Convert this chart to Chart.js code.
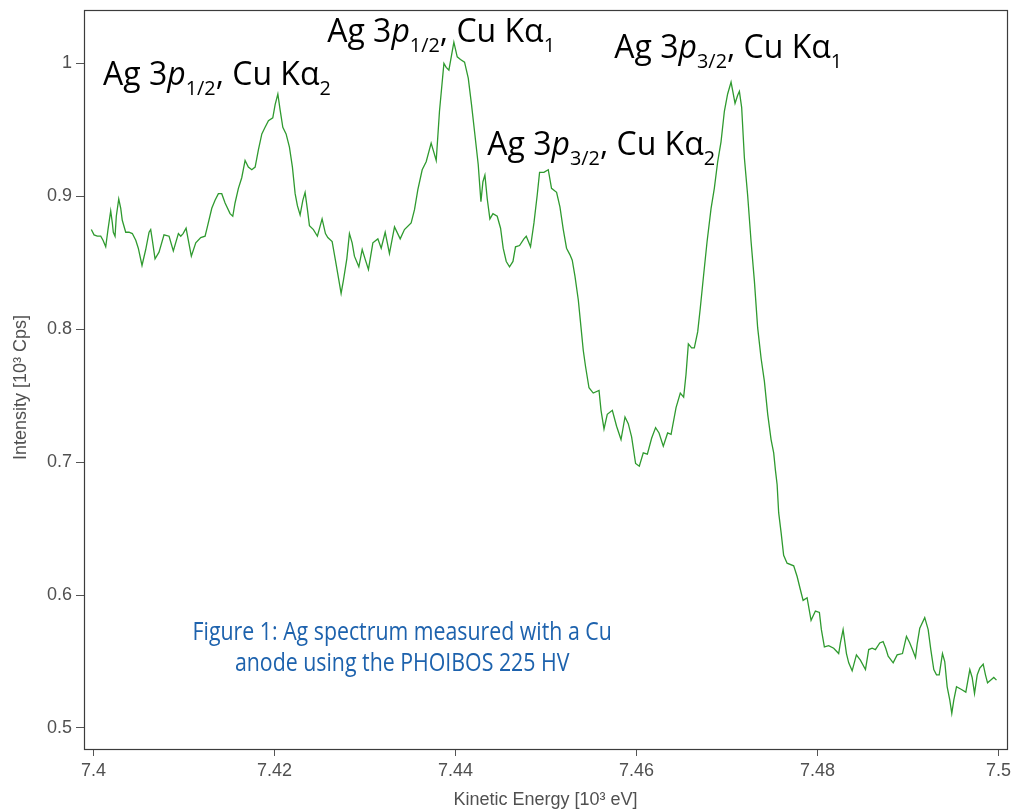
<!DOCTYPE html>
<html>
<head>
<meta charset="utf-8">
<script src="https://cdn.jsdelivr.net/npm/chart.js@4.4.1/dist/chart.umd.min.js"></script>
<style>
  html, body { margin: 0; padding: 0; background: #ffffff; }
  #wrap { width: 1011px; height: 810px; }
  canvas { display: block; }
</style>
</head>
<body>
<div id="wrap"><canvas id="c" width="1011" height="810"></canvas></div>
<script>
// ---------------- DATA ----------------
const energy = [
  7.39976,7.40006,7.40042,7.40080,7.40105,7.40135,7.40160,7.40190,7.40208,7.40219,
  7.40238,7.40252,7.40279,7.40301,7.40318,7.40356,7.40392,7.40429,7.40467,7.40495,
  7.40536,7.40577,7.40614,7.40632,7.40650,7.40680,7.40724,7.40779,7.40835,7.40882,
  7.40938,7.40964,7.40990,7.41023,7.41045,7.41081,7.41130,7.41185,7.41233,7.41258,
  7.41307,7.41343,7.41380,7.41417,7.41454,7.41509,7.41539,7.41564,7.41601,7.41638,
  7.41675,7.41711,7.41749,7.41786,7.41822,7.41860,7.41896,7.41933,7.41981,7.42007,
  7.42037,7.42062,7.42092,7.42128,7.42165,7.42198,7.42228,7.42253,7.42283,7.42313,
  7.42338,7.42364,7.42386,7.42430,7.42474,7.42526,7.42563,7.42589,7.42637,7.42673,
  7.42711,7.42736,7.42762,7.42799,7.42828,7.42858,7.42883,7.42932,7.42969,7.43005,
  7.43038,7.43087,7.43142,7.43179,7.43223,7.43270,7.43326,7.43389,7.43436,7.43510,
  7.43547,7.43584,7.43632,7.43676,7.43731,7.43757,7.43787,7.43823,7.43872,7.43897,
  7.43927,7.43956,7.43982,7.44019,7.44055,7.44100,7.44141,7.44177,7.44215,7.44251,
  7.44281,7.44303,7.44325,7.44351,7.44380,7.44414,7.44461,7.44498,7.44527,7.44561,
  7.44597,7.44635,7.44663,7.44708,7.44756,7.44782,7.44829,7.44867,7.44903,7.44929,
  7.44977,7.45025,7.45061,7.45117,7.45154,7.45191,7.45227,7.45265,7.45290,7.45320,
  7.45357,7.45386,7.45412,7.45437,7.45475,7.45522,7.45586,7.45608,7.45641,7.45677,
  7.45733,7.45780,7.45829,7.45873,7.45909,7.45946,7.45990,7.46031,7.46075,7.46120,
  7.46167,7.46211,7.46249,7.46296,7.46344,7.46382,7.46437,7.46484,7.46521,7.46547,
  7.46573,7.46609,7.46639,7.46676,7.46705,7.46742,7.46780,7.46824,7.46860,7.46897,
  7.46934,7.46971,7.47007,7.47045,7.47089,7.47118,7.47137,7.47162,7.47192,7.47228,
  7.47266,7.47303,7.47339,7.47377,7.47413,7.47450,7.47487,7.47516,7.47535,7.47554,
  7.47571,7.47598,7.47626,7.47664,7.47737,7.47775,7.47811,7.47841,7.47885,7.47929,
  7.47977,7.48021,7.48043,7.48076,7.48124,7.48179,7.48234,7.48253,7.48283,7.48320,
  7.48345,7.48383,7.48430,7.48474,7.48530,7.48566,7.48604,7.48640,7.48688,7.48725,
  7.48754,7.48781,7.48836,7.48880,7.48939,7.48983,7.49020,7.49049,7.49083,7.49101,
  7.49130,7.49185,7.49223,7.49252,7.49285,7.49315,7.49345,7.49381,7.49406,7.49433,
  7.49462,7.49484,7.49506,7.49536,7.49591,7.49639,7.49683,7.49709,7.49735,7.49765,
  7.49793,7.49831,7.49856,7.49879,7.49912,7.49948,7.49978
];
const intensity = [
  0.875,0.871,0.870,0.870,0.867,0.862,0.875,0.889,0.880,0.873,
  0.870,0.885,0.898,0.891,0.882,0.873,0.873,0.872,0.867,0.861,
  0.848,0.860,0.873,0.875,0.867,0.853,0.858,0.871,0.870,0.859,
  0.872,0.870,0.872,0.876,0.868,0.855,0.865,0.869,0.870,0.877,
  0.891,0.897,0.902,0.902,0.895,0.887,0.885,0.895,0.906,0.914,
  0.927,0.922,0.920,0.922,0.935,0.947,0.952,0.957,0.959,0.969,
  0.977,0.965,0.952,0.947,0.937,0.922,0.902,0.893,0.886,0.897,
  0.903,0.890,0.878,0.875,0.870,0.883,0.872,0.869,0.866,0.852,
  0.837,0.827,0.837,0.853,0.872,0.865,0.855,0.847,0.860,0.852,
  0.845,0.865,0.868,0.861,0.873,0.857,0.877,0.868,0.875,0.880,
  0.890,0.905,0.920,0.926,0.940,0.934,0.927,0.964,1.000,0.997,
  0.995,1.006,1.016,1.005,1.003,1.001,0.989,0.969,0.946,0.924,
  0.896,0.911,0.916,0.898,0.883,0.887,0.885,0.876,0.861,0.851,
  0.847,0.851,0.862,0.863,0.868,0.870,0.862,0.880,0.901,0.918,
  0.918,0.920,0.906,0.903,0.892,0.875,0.861,0.856,0.852,0.840,
  0.822,0.802,0.784,0.772,0.756,0.752,0.754,0.739,0.725,0.736,
  0.739,0.727,0.717,0.734,0.729,0.719,0.699,0.697,0.707,0.706,
  0.718,0.726,0.722,0.712,0.722,0.721,0.741,0.752,0.749,0.766,
  0.789,0.786,0.786,0.798,0.816,0.841,0.866,0.891,0.906,0.926,
  0.941,0.964,0.977,0.986,0.970,0.976,0.979,0.967,0.929,0.901,
  0.866,0.836,0.801,0.778,0.761,0.736,0.717,0.707,0.694,0.683,
  0.662,0.647,0.630,0.624,0.622,0.614,0.604,0.596,0.598,0.581,
  0.588,0.587,0.574,0.561,0.562,0.560,0.556,0.564,0.574,0.556,
  0.549,0.543,0.555,0.551,0.544,0.559,0.560,0.559,0.564,0.565,
  0.560,0.554,0.549,0.555,0.556,0.569,0.564,0.559,0.553,0.563,
  0.575,0.583,0.574,0.559,0.544,0.540,0.540,0.556,0.550,0.531,
  0.521,0.511,0.521,0.531,0.529,0.527,0.544,0.538,0.526,0.540,
  0.545,0.548,0.540,0.534,0.536,0.538,0.536
];
const xTicks = [7.40, 7.42, 7.44, 7.46, 7.48, 7.50];
const xTickLabels = ['7.4', '7.42', '7.44', '7.46', '7.48', '7.5'];
const yTicks = [0.5, 0.6, 0.7, 0.8, 0.9, 1.0];
const yTickLabels = ['0.5', '0.6', '0.7', '0.8', '0.9', '1'];
const xRange = [7.39895, 7.50094];
const yRange = [0.4842, 1.0402];
const xTitle = 'Kinetic Energy [10³ eV]';
const yTitle = 'Intensity [10³ Cps]';
const captionLines = ['Figure 1: Ag spectrum measured with a Cu', 'anode using the PHOIBOS 225 HV'];

// peak labels: text segments (it = italic, sub = subscript)
const peakLabelTexts = [
  [{t:'Ag 3'},{t:'p',it:true},{t:'1/2',sub:true},{t:', Cu K'},{t:'α'},{t:'2',sub:true}],
  [{t:'Ag 3'},{t:'p',it:true},{t:'1/2',sub:true},{t:', Cu K'},{t:'α'},{t:'1',sub:true}],
  [{t:'Ag 3'},{t:'p',it:true},{t:'3/2',sub:true},{t:', Cu K'},{t:'α'},{t:'2',sub:true}],
  [{t:'Ag 3'},{t:'p',it:true},{t:'3/2',sub:true},{t:', Cu K'},{t:'α'},{t:'1',sub:true}]
];

// ---------------- LAYOUT / STYLE ----------------
// anchors (in data units) for the left/baseline of each peak label
const peakLabelAnchors = [
  {x: 7.40105, y: 0.9837},
  {x: 7.42582, y: 1.0160},
  {x: 7.44351, y: 0.9310},
  {x: 7.45755, y: 1.0040}
];
const captionAnchor = {x: 7.43411, y: [0.5663, 0.5430]};

const TICK_FONT = '"Liberation Sans", Arial, sans-serif';
const LABEL_FONT = '"Open Sans", "Noto Sans", sans-serif';

function drawRich(ctx, segs, x, y, size) {
  let cx = x;
  ctx.textBaseline = 'alphabetic';
  ctx.textAlign = 'left';
  for (const s of segs) {
    const fs = s.sub ? size * 0.62 : size;
    ctx.font = (s.it ? 'italic ' : '') + fs + 'px ' + LABEL_FONT;
    const dy = s.sub ? size * 0.30 : 0;
    ctx.fillText(s.t, cx, y + dy);
    cx += ctx.measureText(s.t).width;
  }
}

const overlay = {
  id: 'overlay',
  afterDraw(chart) {
    const ctx = chart.ctx;
    const a = chart.chartArea;
    const xs = chart.scales.x, ys = chart.scales.y;
    ctx.save();
    // frame
    ctx.strokeStyle = '#3c3c3c';
    ctx.lineWidth = 1.2;
    ctx.strokeRect(Math.round(a.left) + 0.5, Math.round(a.top) + 0.5,
                   Math.round(a.right - a.left), Math.round(a.bottom - a.top));
    // axis titles
    ctx.fillStyle = '#505050';
    ctx.font = '18px ' + TICK_FONT;
    ctx.textAlign = 'center';
    ctx.textBaseline = 'alphabetic';
    ctx.fillText(xTitle, (a.left + a.right) / 2, 805);
    ctx.save();
    ctx.translate(26, (a.top + a.bottom) / 2 + 8);
    ctx.rotate(-Math.PI / 2);
    ctx.fillText(yTitle, 0, 0);
    ctx.restore();
    // peak labels
    ctx.fillStyle = '#000000';
    peakLabelTexts.forEach((segs, i) => {
      const p = peakLabelAnchors[i];
      drawRich(ctx, segs, xs.getPixelForValue(p.x), ys.getPixelForValue(p.y), 32);
    });
    // caption
    ctx.fillStyle = '#1d62ad';
    ctx.font = '26px ' + LABEL_FONT;
    ctx.textAlign = 'center';
    captionLines.forEach((line, i) => {
      ctx.save();
      ctx.translate(xs.getPixelForValue(captionAnchor.x), ys.getPixelForValue(captionAnchor.y[i]));
      ctx.scale(0.82, 1);
      ctx.fillText(line, 0, 0);
      ctx.restore();
    });
    ctx.restore();
  }
};

function zeroPad(s) { s.paddingLeft = 0; s.paddingRight = 0; s.paddingTop = 0; s.paddingBottom = 0; }

new Chart(document.getElementById('c'), {
  type: 'scatter',
  data: {
    datasets: [{
      data: energy.map((e, i) => ({x: e, y: intensity[i]})),
      showLine: true,
      borderColor: '#2f9a2f',
      borderWidth: 1.3,
      pointRadius: 0,
      tension: 0,
      fill: false
    }]
  },
  options: {
    responsive: false,
    animation: false,
    devicePixelRatio: 1,
    layout: { padding: { top: 10, right: 4, left: 0, bottom: 0 } },
    plugins: { legend: { display: false }, tooltip: { enabled: false } },
    scales: {
      x: {
        type: 'linear',
        min: xRange[0], max: xRange[1],
        afterBuildTicks: s => { s.ticks = xTicks.map(v => ({value: v})); },
        afterFit: s => { s.height = 61; zeroPad(s); },
        border: { display: false },
        grid: { drawOnChartArea: false, drawTicks: true, tickLength: 7, color: '#555', lineWidth: 1 },
        ticks: {
          autoSkip: false, maxRotation: 0, minRotation: 0,
          padding: 4,
          color: '#505050',
          font: { family: TICK_FONT, size: 18 },
          callback: (v, i) => xTickLabels[i]
        }
      },
      y: {
        type: 'linear',
        min: yRange[0], max: yRange[1],
        afterBuildTicks: s => { s.ticks = yTicks.map(v => ({value: v})); },
        afterFit: s => { s.width = 84; zeroPad(s); },
        border: { display: false },
        grid: { drawOnChartArea: false, drawTicks: true, tickLength: 8, color: '#555', lineWidth: 1 },
        ticks: {
          autoSkip: false,
          padding: 4,
          color: '#505050',
          font: { family: TICK_FONT, size: 18 },
          callback: (v, i) => yTickLabels[i]
        }
      }
    }
  },
  plugins: [overlay]
});
</script>
</body>
</html>
